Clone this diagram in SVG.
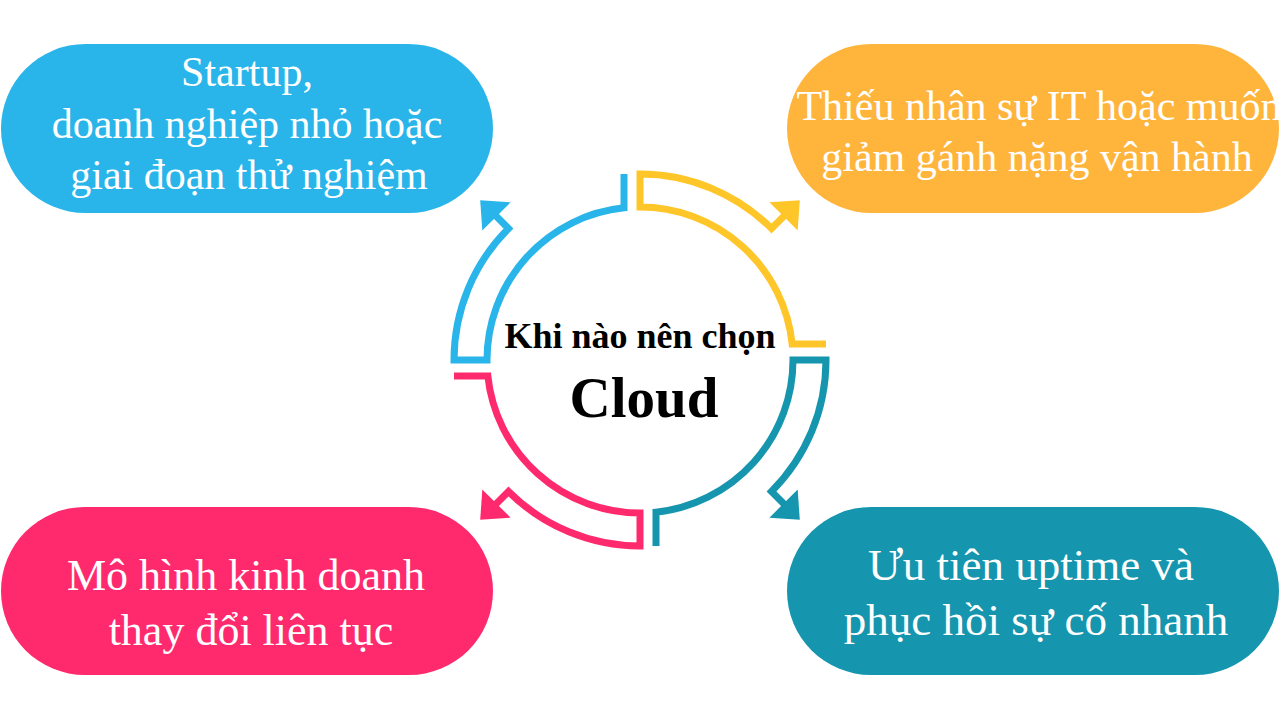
<svg xmlns="http://www.w3.org/2000/svg" width="1280" height="720" viewBox="0 0 1280 720">
<style>
  .box-text { font-family: "Liberation Serif", "Times New Roman", serif; fill: #ffffff; text-anchor: middle; }
  .top { font-size: 42px; }
  .bot { font-size: 44px; }
  .bot2 { font-size: 45px; }
  .center-text { font-family: "Liberation Serif", "Times New Roman", serif; font-weight: bold; fill: #000000; text-anchor: middle; }
  .band { fill: none; stroke-width: 7; stroke-linejoin: miter; stroke-linecap: butt; }
</style>
<defs>
  <path id="bandShape" d="M 186,-16 L 152.16,-16 A 153 153 0 0 0 0,-153 L 0,-186 A 186 186 0 0 1 131.5,-131.5 L 145,-145"/>
  <polygon id="headShape" points="157.68,-129.4 159.8,-159.8 129.4,-157.68"/>
</defs>
<rect width="1280" height="720" fill="#ffffff"/>

<g id="connectors">
  <g id="arrow-yellow" transform="translate(640 360)">
    <use href="#bandShape" class="band" stroke="#FFC62A"/>
    <use href="#headShape" fill="#FFC62A"/>
  </g>
  <g id="arrow-blue" transform="translate(640 360) rotate(-90)">
    <use href="#bandShape" class="band" stroke="#29B5E9"/>
    <use href="#headShape" fill="#29B5E9"/>
  </g>
  <g id="arrow-pink" transform="translate(640 360) rotate(180)">
    <use href="#bandShape" class="band" stroke="#FF2A6E"/>
    <use href="#headShape" fill="#FF2A6E"/>
  </g>
  <g id="arrow-teal" transform="translate(640 360) rotate(90)">
    <use href="#bandShape" class="band" stroke="#1595AE"/>
    <use href="#headShape" fill="#1595AE"/>
  </g>
</g>

<g id="center">
  <text class="center-text" x="640" y="348" font-size="36">Khi nào nên chọn</text>
  <text class="center-text" x="644" y="417" font-size="57">Cloud</text>
</g>

<g id="node-startup">
  <rect x="1" y="44" width="492" height="169" rx="84.5" fill="#29B5E9"/>
  <text class="box-text top" x="247" y="86">Startup,</text>
  <text class="box-text top" x="247" y="138">doanh nghiệp nhỏ hoặc</text>
  <text class="box-text top" x="249" y="189">giai đoạn thử nghiệm</text>
</g>

<g id="node-staff">
  <rect x="787" y="44" width="492" height="169" rx="84.5" fill="#FFB43B"/>
  <text class="box-text top" x="1039" y="120">Thiếu nhân sự IT hoặc muốn</text>
  <text class="box-text top" x="1037" y="171">giảm gánh nặng vận hành</text>
</g>

<g id="node-model">
  <rect x="1" y="507" width="492" height="168" rx="84" fill="#FF2A6E"/>
  <text class="box-text bot" x="246" y="590">Mô hình kinh doanh</text>
  <text class="box-text bot" x="251" y="645">thay đổi liên tục</text>
</g>

<g id="node-uptime">
  <rect x="787" y="507" width="492" height="168" rx="84" fill="#1595AE"/>
  <text class="box-text bot2" x="1031" y="580">Ưu tiên uptime và</text>
  <text class="box-text bot2" x="1036" y="635">phục hồi sự cố nhanh</text>
</g>
</svg>
